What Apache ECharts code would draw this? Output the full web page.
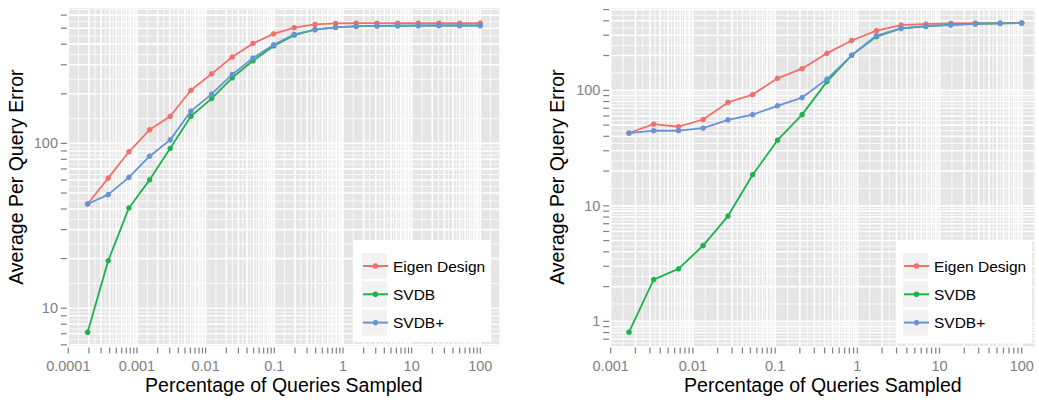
<!DOCTYPE html>
<html>
<head>
<meta charset="utf-8">
<title>Average Per Query Error vs. Percentage of Queries Sampled</title>
<script src="https://cdn.jsdelivr.net/npm/echarts@6/dist/echarts.min.js"></script>
<style>
  html, body { margin: 0; padding: 0; background: #ffffff; }
  #chart { width: 1039px; height: 400px; }
</style>
</head>
<body>
<div id="chart"></div>
<script>
// ---- data ----------------------------------------------------------------
const seriesNames = ['Eigen Design', 'SVDB', 'SVDB+'];
const seriesColors = ['#F2706A', '#1DB24C', '#6894D6'];

// Left panel: percentage of queries sampled and the resulting error per method
const pctLeft = [0.000191, 0.000381, 0.000763, 0.00153, 0.00305, 0.0061, 0.0122, 0.0244,
                 0.0488, 0.0977, 0.195, 0.391, 0.781, 1.56, 3.13, 6.25, 12.5, 25, 50, 100];
const eigenLeft = [42.9, 61.6, 88.9, 121, 146, 210, 264, 334, 404, 462,
                   504, 527, 534, 536, 536, 536, 536, 536, 536, 536];
const svdbLeft = [7.15, 19.4, 40.6, 60.1, 93.4, 146, 187, 250, 317, 390,
                  453, 490, 506, 513, 516, 517, 518, 519, 519, 519];
const svdbPlusLeft = [42.9, 48.9, 62.2, 83.6, 105, 157, 199, 262, 329, 397,
                      459, 490, 506, 515, 517, 519, 519, 519, 519, 519];
const xLabelsLeft = ['0.0001', '0.001', '0.01', '0.1', '1', '10', '100'];
const yLabelsLeft = ['10', '100'];

// Right panel
const pctRight = [0.00167, 0.00333, 0.00667, 0.0133, 0.0267, 0.0533, 0.107, 0.213,
                  0.427, 0.853, 1.71, 3.41, 6.83, 13.7, 27.3, 54.6, 100];
const eigenRight = [42.7, 51.0, 48.4, 55.9, 78.5, 91.9, 127, 154, 209,
                    270, 329, 367, 375, 380, 382, 382, 382];
const svdbRight = [0.806, 2.30, 2.85, 4.53, 8.16, 18.6, 37.0, 61.6, 119,
                   201, 292, 344, 358, 370, 377, 380, 382];
const svdbPlusRight = [42.7, 44.7, 44.7, 47.1, 55.5, 61.6, 73.5, 86.6, 125,
                       201, 298, 344, 360, 367, 377, 380, 382];
const xLabelsRight = ['0.001', '0.01', '0.1', '1', '10', '100'];
const yLabelsRight = ['1', '10', '100'];

const xTitle = 'Percentage of Queries Sampled';
const yTitle = 'Average Per Query Error';

// ---- layout / style ------------------------------------------------------
const FONT = '"Liberation Sans", Arial, Helvetica, sans-serif';
const PANEL_BG = '#E5E5E5';
const TICK_COLOR = '#7F7F7F';

const panels = [
  {
    grid: { left: 68.3, top: 8.3, width: 431, height: 343.4 },
    xRange: [0.0001, 189], yRange: [5.9, 660],
    x: pctLeft, ys: [eigenLeft, svdbLeft, svdbPlusLeft],
    xLabels: xLabelsLeft, yLabels: yLabelsLeft,
    yNameGap: 42,
    legend: { boxX: 353, boxY: 240, boxW: 138, boxH: 102, keyX: 362 }
  },
  {
    grid: { left: 610.7, top: 8.3, width: 424.3, height: 343.4 },
    xRange: [0.001, 145], yRange: [0.612, 513],
    x: pctRight, ys: [eigenRight, svdbRight, svdbPlusRight],
    xLabels: xLabelsRight, yLabels: yLabelsRight,
    yNameGap: 43.5,
    legend: { boxX: 897, boxY: 240, boxW: 135, boxH: 103, keyX: 903 }
  }
];

// Breaks at 1..9 x 10^k covering a range; minor lines sit half-way (in log space)
function logBreaks(lo, hi) {
  const out = [];
  const k0 = Math.floor(Math.log10(lo)) - 1;
  const k1 = Math.ceil(Math.log10(hi)) + 1;
  for (let k = k0; k <= k1; k++) {
    for (let m = 1; m <= 9; m++) out.push(m * Math.pow(10, k));
  }
  return out;
}
function inRange(v, r) {
  return v >= r[0] * (1 - 1e-9) && v <= r[1] * (1 + 1e-9);
}
function gridItems(range, otherRef, dir) {
  const b = logBreaks(range[0], range[1]);
  const items = [];
  for (let i = 0; i < b.length; i++) {
    if (inRange(b[i], range)) {
      items.push(dir === 0 ? [b[i], otherRef, 1, 0] : [otherRef, b[i], 1, 1]);
    }
    if (i + 1 < b.length) {
      const mid = Math.sqrt(b[i] * b[i + 1]);
      if (inRange(mid, range)) {
        items.push(dir === 0 ? [mid, otherRef, 0, 0] : [otherRef, mid, 0, 1]);
      }
    }
  }
  return items;
}

// Grid lines plus outer tick marks
function renderGridLine(params, api) {
  const cs = params.coordSys;
  const major = api.value(2) === 1;
  const vertical = api.value(3) === 0;
  const p = api.coord([api.value(0), api.value(1)]);
  const lw = major ? 1.6 : 0.8;
  const children = [];
  if (vertical) {
    const x = p[0];
    children.push({ type: 'line', shape: { x1: x, y1: cs.y, x2: x, y2: cs.y + cs.height },
                    style: { stroke: '#ffffff', lineWidth: lw } });
    if (major) {
      const yb = cs.y + cs.height;
      children.push({ type: 'line', shape: { x1: x, y1: yb + 1.5, x2: x, y2: yb + 7.5 },
                      style: { stroke: TICK_COLOR, lineWidth: 1.2 } });
    }
  } else {
    const y = p[1];
    children.push({ type: 'line', shape: { x1: cs.x, y1: y, x2: cs.x + cs.width, y2: y },
                    style: { stroke: '#ffffff', lineWidth: lw } });
    if (major) {
      children.push({ type: 'line', shape: { x1: cs.x - 1.5, y1: y, x2: cs.x - 7.5, y2: y },
                      style: { stroke: TICK_COLOR, lineWidth: 1.2 } });
    }
  }
  return { type: 'group', children: children };
}

function makeLabelRenderer(panel) {
  return function (params, api) {
    const cs = params.coordSys;
    const idx = api.value(2);
    const vertical = api.value(3) === 0;
    const p = api.coord([api.value(0), api.value(1)]);
    if (vertical) {
      return { type: 'text', x: p[0], y: cs.y + cs.height + 19.5,
               style: { text: panel.xLabels[idx], fill: TICK_COLOR, fontSize: 14.5, fontFamily: FONT,
                        align: 'center', verticalAlign: 'middle' } };
    }
    return { type: 'text', x: cs.x - 10.3, y: p[1],
             style: { text: panel.yLabels[idx], fill: TICK_COLOR, fontSize: 14.5, fontFamily: FONT,
                      align: 'right', verticalAlign: 'middle' } };
  };
}

// ---- option --------------------------------------------------------------
const option = {
  animation: false,
  backgroundColor: '#ffffff',
  grid: [], xAxis: [], yAxis: [], series: [], legend: [], graphic: []
};

panels.forEach(function (panel, pi) {
  option.grid.push(Object.assign({ show: true, backgroundColor: PANEL_BG, borderWidth: 0 }, panel.grid));

  const hidden = { axisLine: { show: false }, axisTick: { show: false },
                   axisLabel: { show: false }, splitLine: { show: false } };
  option.xAxis.push(Object.assign({
    type: 'log', logBase: 10, gridIndex: pi, min: panel.xRange[0], max: panel.xRange[1],
    name: xTitle, nameLocation: 'middle', nameGap: 29,
    nameTextStyle: { fontSize: 19.5, color: '#000000', fontFamily: FONT }
  }, hidden));
  option.yAxis.push(Object.assign({
    type: 'log', logBase: 10, gridIndex: pi, min: panel.yRange[0], max: panel.yRange[1],
    name: yTitle, nameLocation: 'middle', nameGap: panel.yNameGap,
    nameTextStyle: { fontSize: 19.5, color: '#000000', fontFamily: FONT }
  }, hidden));

  // background grid + ticks
  const gItems = gridItems(panel.xRange, panel.yRange[0], 0)
    .concat(gridItems(panel.yRange, panel.xRange[0], 1));
  option.series.push({
    type: 'custom', xAxisIndex: pi, yAxisIndex: pi, silent: true, z: 1,
    renderItem: renderGridLine, data: gItems
  });

  // tick labels
  const lItems = panel.xLabels.map(function (t, i) { return [parseFloat(t), panel.yRange[0], i, 0]; })
    .concat(panel.yLabels.map(function (t, i) { return [panel.xRange[0], parseFloat(t), i, 1]; }));
  option.series.push({
    type: 'custom', xAxisIndex: pi, yAxisIndex: pi, silent: true, z: 1,
    renderItem: makeLabelRenderer(panel), data: lItems
  });

  // data lines
  panel.ys.forEach(function (vals, si) {
    option.series.push({
      type: 'line', name: seriesNames[si], xAxisIndex: pi, yAxisIndex: pi, z: 3 + si,
      data: panel.x.map(function (xv, j) { return [xv, vals[j]]; }),
      symbol: 'circle', symbolSize: 5.5, showSymbol: true,
      lineStyle: { width: 1.8, color: seriesColors[si] },
      itemStyle: { color: seriesColors[si] },
      emphasis: { disabled: true }
    });
  });

  // legend box with grey key backgrounds
  const lg = panel.legend;
  option.graphic.push({ type: 'rect', z: 20, silent: true,
    shape: { x: lg.boxX, y: lg.boxY, width: lg.boxW, height: lg.boxH },
    style: { fill: '#ffffff' } });
  for (let k = 0; k < seriesNames.length; k++) {
    option.graphic.push({ type: 'rect', z: 21, silent: true,
      shape: { x: lg.keyX, y: lg.boxY + 13 + k * 28.3, width: 25, height: 26 },
      style: { fill: '#F2F2F2' } });
  }
  option.legend.push({
    data: seriesNames, orient: 'vertical', left: lg.keyX, top: lg.boxY + 17,
    itemWidth: 25, itemHeight: 7, itemGap: 10.3, padding: 0, z: 30,
    selectedMode: false,
    textStyle: { fontSize: 15.5, color: '#000000', fontFamily: FONT, lineHeight: 18 }
  });
});

const chart = echarts.init(document.getElementById('chart'), null, { renderer: 'svg' });
chart.setOption(option);
</script>
</body>
</html>
